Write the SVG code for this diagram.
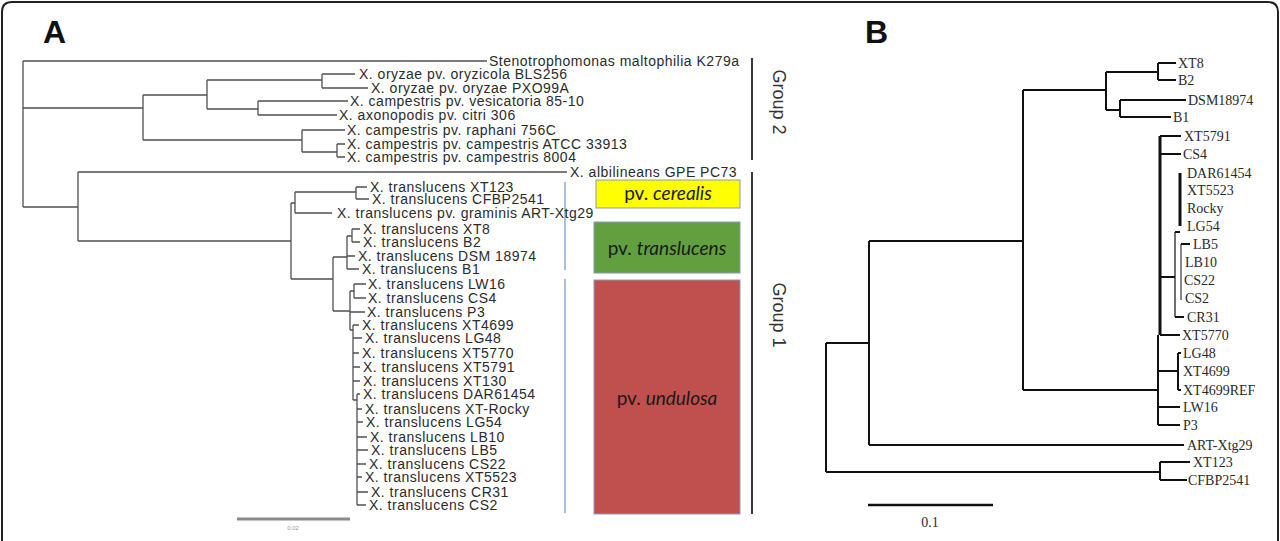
<svg xmlns="http://www.w3.org/2000/svg" width="1280" height="541" viewBox="0 0 1280 541">
<style>
.ta{font-family:"Liberation Sans",Arial,sans-serif;font-size:14px;letter-spacing:0.5px;fill:#2b2b2b}
.tb{font-family:"Liberation Serif","Times New Roman",serif;font-size:14px;fill:#2a2a2a}
.ea{fill:none;stroke:#505050;stroke-width:1.3}
.eb{fill:none;stroke:#111;stroke-width:2}
.lbl{font-family:"Liberation Sans",Arial,sans-serif;font-size:32px;font-weight:bold;fill:#111}
.pv{font-family:Lato,"Open Sans",sans-serif;font-size:19px;fill:#1a1a1a;text-anchor:middle}
.grp{font-family:"Liberation Sans",Arial,sans-serif;font-size:18px;fill:#333;text-anchor:middle}
.box{stroke:#8a9bb5;stroke-width:1}
</style>
<rect width="1280" height="541" fill="#fff"/>
<path d="M2,541 V12 Q2,2 12,2 H1268 Q1278,2 1278,12 V541" fill="none" stroke="#222" stroke-width="2"/>
<text class="lbl" x="43" y="43">A</text>
<text class="lbl" x="865" y="43">B</text>

<g id="connectors">
<g id="treeA" class="ea">
<path d="M23,61 V207 M23,61 H487 M23,108 H143 M23,207 H78"/>
<path d="M143,95 V140 M143,95 H207 M207,80 V109 M207,80 H322 M322,74 V88 M322,74 H355 M322,88 H368 M207,109 H258 M258,101 V115 M258,101 H348 M258,115 H337 M143,140 H302 M302,130 V152 M302,130 H345 M302,152 H337 M337,144 V157 M337,144 H345 M337,157 H345"/>
<path d="M78,172 V241 M78,172 H567 M78,241 H291 M291,203 V279 M291,203 H295 M295,192 V213 M295,192 H356 M356,187 V199 M356,187 H367 M356,199 H369 M295,213 H332 M291,279 H333 M333,257 V311 M333,257 H347 M347,236 V269 M347,236 H352 M352,229 V242 M352,229 H360 M352,242 H360 M347,256 H355 M347,269 H359 M333,311 H350 M350,291 V330 M350,291 H354 M354,284 V298 M354,284 H366 M354,298 H366 M350,312 H365 M350,330 H353 M353,325 V400 M353,325 H359 M353,338 H362 M353,353 H359 M353,367 H360 M353,381 H360 M353,400 H357 M357,394 V505 M357,394 H360 M357,409 H362 M357,422 H363 M357,437 H367 M357,450 H368 M357,464 H366 M357,477 H362 M357,492 H368 M357,505 H366"/>
</g>
<g id="treeB" class="eb">
<path d="M826,343 V472 M826,343 H869 M826,472 H1160 M1160,462 V480 M1160,462 H1190 M1160,480 H1187"/>
<path d="M869,241 V445 M869,241 H1023 M869,445 H1184"/>
<path d="M1023,90 V390 M1023,90 H1106 M1106,72 V110 M1106,72 H1158 M1158,63 V80 M1158,63 H1176 M1158,80 H1176 M1106,110 H1120 M1120,100 V117 M1120,100 H1186 M1120,117 H1171"/>
<path d="M1023,390 H1158 M1158,335 V425 M1160,136 H1181 M1160,154 H1181 M1160,335 H1180 M1158,407 H1180 M1158,425 H1180 M1158,371 H1178 M1178,353 V390 M1178,353 H1181 M1178,390 H1181 M1160,277 H1175 M1175,232 H1180 M1175,317 H1184 M1181,244 H1190"/>
<path d="M1160,136 V335" stroke-width="3"/>
<path d="M1180,173 V226" stroke-width="3"/>
<path d="M1175,232 V317" stroke-width="1.2"/>
<path d="M1181,244 V300" stroke-width="1"/>
</g>
</g>

<g id="scaleA"><path d="M237,519 H350" stroke="#8a8a8a" stroke-width="3"/><text x="293" y="530" font-family="Liberation Sans,Arial,sans-serif" font-size="6" fill="#999" text-anchor="middle">0.02</text></g>
<g id="scaleB"><path d="M868,505 H993" stroke="#111" stroke-width="2.5"/><text x="930" y="527" class="tb" font-size="13" text-anchor="middle">0.1</text></g>

<g id="pathovar-lines" stroke="#8eaad6" stroke-width="1.5"><path d="M565,182 V270 M565,279 V513"/></g>
<g id="cerealis"><rect class="box" x="596" y="180" width="144" height="28" fill="#ffff00"/><text class="pv" x="668" y="200">pv. <tspan font-style="italic">cerealis</tspan></text></g>
<g id="translucens"><rect class="box" x="594" y="222" width="146" height="51" fill="#62a03f"/><text class="pv" x="667" y="255">pv. <tspan font-style="italic">translucens</tspan></text></g>
<g id="undulosa"><rect class="box" x="594" y="280" width="146" height="234" fill="#c0504d"/><text class="pv" x="667" y="405">pv. <tspan font-style="italic">undulosa</tspan></text></g>

<g id="group2"><path d="M752,58 V160" stroke="#3a3a3a" stroke-width="2"/><text class="grp" transform="translate(773,102) rotate(90)">Group 2</text></g>
<g id="group1"><path d="M752,172 V514" stroke="#3a3a3a" stroke-width="2"/><text class="grp" transform="translate(773,315) rotate(90)">Group 1</text></g>

<g id="labelsA">
<g id="a-steno"><text class="ta" x="489" y="66">Stenotrophomonas maltophilia K279a</text></g>
<g id="a-oryzicola"><text class="ta" x="359" y="79">X. oryzae pv. oryzicola BLS256</text></g>
<g id="a-pxo99a"><text class="ta" x="371" y="93">X. oryzae pv. oryzae PXO99A</text></g>
<g id="a-vesicatoria"><text class="ta" x="350" y="106">X. campestris pv. vesicatoria 85-10</text></g>
<g id="a-citri"><text class="ta" x="339" y="120">X. axonopodis pv. citri 306</text></g>
<g id="a-raphani"><text class="ta" x="347" y="135">X. campestris pv. raphani 756C</text></g>
<g id="a-atcc"><text class="ta" x="347" y="149">X. campestris pv. campestris ATCC 33913</text></g>
<g id="a-8004"><text class="ta" x="347" y="162">X. campestris pv. campestris 8004</text></g>
<g id="a-albilineans"><text class="ta" x="570" y="177">X. albilineans GPE PC73</text></g>
<g id="a-xt123"><text class="ta" x="370" y="192">X. translucens XT123</text></g>
<g id="a-cfbp2541"><text class="ta" x="372" y="204">X. translucens CFBP2541</text></g>
<g id="a-graminis"><text class="ta" x="337" y="218">X. translucens pv. graminis ART-Xtg29</text></g>
<g id="a-xt8"><text class="ta" x="363" y="234">X. translucens XT8</text></g>
<g id="a-b2"><text class="ta" x="363" y="247">X. translucens B2</text></g>
<g id="a-dsm"><text class="ta" x="358" y="261">X. translucens DSM 18974</text></g>
<g id="a-b1"><text class="ta" x="362" y="274">X. translucens B1</text></g>
<g id="a-lw16"><text class="ta" x="368" y="289">X. translucens LW16</text></g>
<g id="a-cs4"><text class="ta" x="368" y="303">X. translucens CS4</text></g>
<g id="a-p3"><text class="ta" x="367" y="317">X. translucens P3</text></g>
<g id="a-xt4699"><text class="ta" x="362" y="330">X. translucens XT4699</text></g>
<g id="a-lg48"><text class="ta" x="365" y="343">X. translucens LG48</text></g>
<g id="a-xt5770"><text class="ta" x="362" y="358">X. translucens XT5770</text></g>
<g id="a-xt5791"><text class="ta" x="363" y="372">X. translucens XT5791</text></g>
<g id="a-xt130"><text class="ta" x="363" y="386">X. translucens XT130</text></g>
<g id="a-dar"><text class="ta" x="363" y="399">X. translucens DAR61454</text></g>
<g id="a-rocky"><text class="ta" x="365" y="414">X. translucens XT-Rocky</text></g>
<g id="a-lg54"><text class="ta" x="366" y="427">X. translucens LG54</text></g>
<g id="a-lb10"><text class="ta" x="370" y="442">X. translucens LB10</text></g>
<g id="a-lb5"><text class="ta" x="371" y="455">X. translucens LB5</text></g>
<g id="a-cs22"><text class="ta" x="369" y="469">X. translucens CS22</text></g>
<g id="a-xt5523"><text class="ta" x="365" y="482">X. translucens XT5523</text></g>
<g id="a-cr31"><text class="ta" x="371" y="497">X. translucens CR31</text></g>
<g id="a-cs2"><text class="ta" x="369" y="510">X. translucens CS2</text></g>
</g>

<g id="labelsB">
<g id="b-xt8"><text class="tb" x="1178" y="68">XT8</text></g>
<g id="b-b2"><text class="tb" x="1178" y="85">B2</text></g>
<g id="b-dsm"><text class="tb" x="1188" y="105">DSM18974</text></g>
<g id="b-b1"><text class="tb" x="1173" y="122">B1</text></g>
<g id="b-xt5791"><text class="tb" x="1184" y="141">XT5791</text></g>
<g id="b-cs4"><text class="tb" x="1183" y="159">CS4</text></g>
<g id="b-dar"><text class="tb" x="1187" y="178">DAR61454</text></g>
<g id="b-xt5523"><text class="tb" x="1187" y="195">XT5523</text></g>
<g id="b-rocky"><text class="tb" x="1187" y="213">Rocky</text></g>
<g id="b-lg54"><text class="tb" x="1187" y="231">LG54</text></g>
<g id="b-lb5"><text class="tb" x="1193" y="249">LB5</text></g>
<g id="b-lb10"><text class="tb" x="1185" y="267">LB10</text></g>
<g id="b-cs22"><text class="tb" x="1184" y="285">CS22</text></g>
<g id="b-cs2"><text class="tb" x="1185" y="303">CS2</text></g>
<g id="b-cr31"><text class="tb" x="1187" y="322">CR31</text></g>
<g id="b-xt5770"><text class="tb" x="1182" y="340">XT5770</text></g>
<g id="b-lg48"><text class="tb" x="1183" y="358">LG48</text></g>
<g id="b-xt4699"><text class="tb" x="1183" y="376">XT4699</text></g>
<g id="b-xt4699ref"><text class="tb" x="1183" y="395">XT4699REF</text></g>
<g id="b-lw16"><text class="tb" x="1183" y="412">LW16</text></g>
<g id="b-p3"><text class="tb" x="1183" y="430">P3</text></g>
<g id="b-art"><text class="tb" x="1187" y="450">ART-Xtg29</text></g>
<g id="b-xt123"><text class="tb" x="1193" y="467">XT123</text></g>
<g id="b-cfbp"><text class="tb" x="1188" y="485">CFBP2541</text></g>
</g>
</svg>
